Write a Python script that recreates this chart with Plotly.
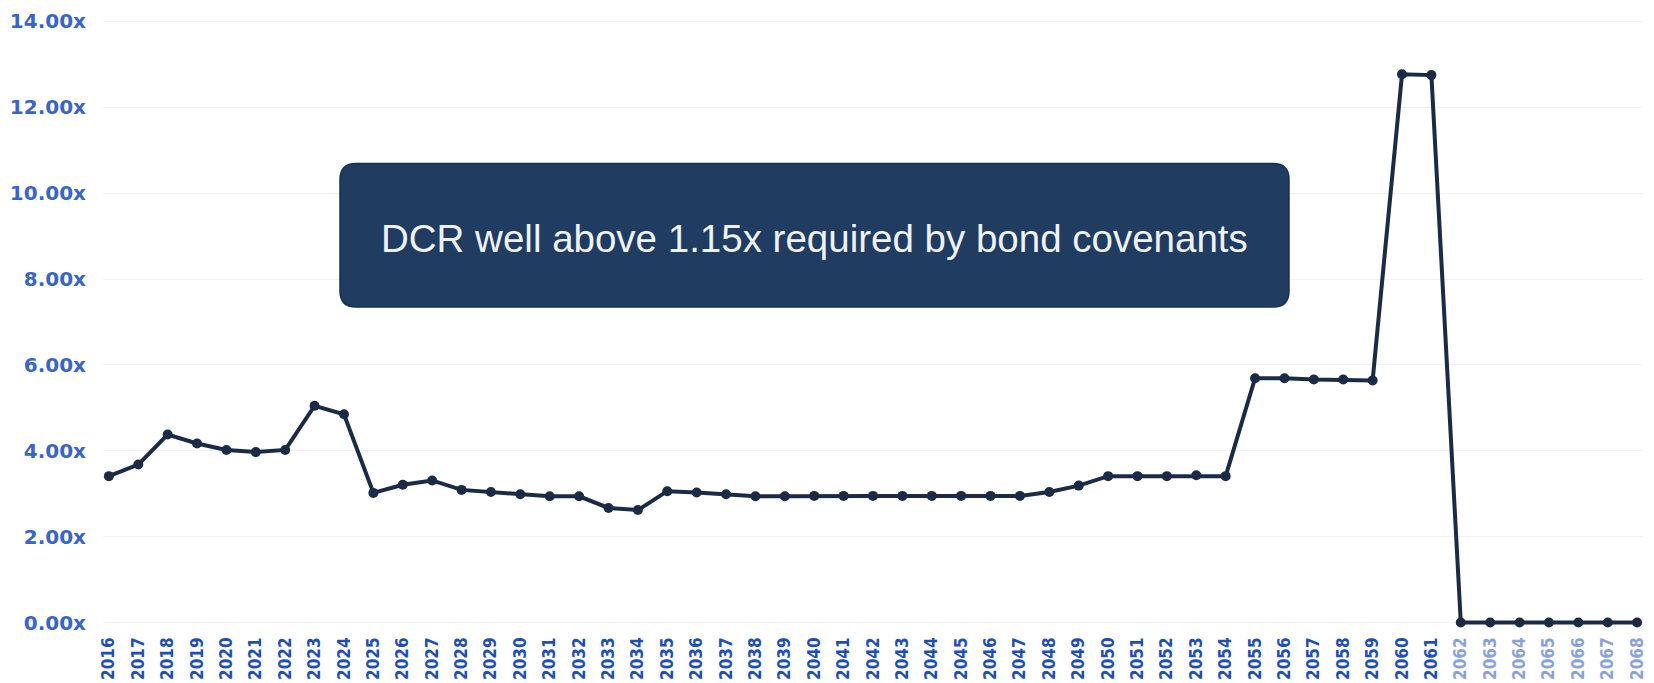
import plotly.graph_objects as go

years = list(range(2016, 2069))
dcr = [3.41, 3.68, 4.38, 4.17, 4.02, 3.97, 4.02, 5.05, 4.85, 3.02,
       3.21, 3.31, 3.09, 3.04, 2.99, 2.94, 2.94, 2.67, 2.62, 3.06,
       3.03, 2.99, 2.94, 2.94, 2.95, 2.95, 2.95, 2.95, 2.95, 2.95,
       2.95, 2.95, 3.04, 3.19, 3.41, 3.41, 3.41, 3.43, 3.41, 5.69,
       5.69, 5.66, 5.66, 5.64, 12.77, 12.75, 0.0, 0.0, 0.0, 0.0,
       0.0, 0.0, 0.0]
y_ticks = [0, 2, 4, 6, 8, 10, 12, 14]
y_tick_labels = ["0.00x", "2.00x", "4.00x", "6.00x", "8.00x", "10.00x", "12.00x", "14.00x"]
faded_from = 2062
callout = "DCR well above 1.15x required by bond covenants"

W, H = 1654, 683
ML, MR, MT, MB = 103, 11, 15, 54

x_labels = [str(y) if y < faded_from else f'<span style="color:#8aa2d8">{y}</span>' for y in years]

fig = go.Figure()
fig.add_trace(go.Scatter(
    x=years, y=dcr, mode="lines+markers",
    line=dict(color="#1b2b45", width=4),
    marker=dict(color="#1b2b45", size=10),
    hoverinfo="x+y", showlegend=False,
))

# rounded callout box (pixel geometry converted to paper coords)
pw, ph = W - ML - MR, H - MT - MB
bx0, bx1, by0, by1, r = 340, 1289, 163.5, 307, 16
def px(x): return (x - ML) / pw
def py(y): return (H - MB - y) / ph
path = (f"M {px(bx0 + r)},{py(by0)} L {px(bx1 - r)},{py(by0)} "
        f"Q {px(bx1)},{py(by0)} {px(bx1)},{py(by0 + r)} "
        f"L {px(bx1)},{py(by1 - r)} Q {px(bx1)},{py(by1)} {px(bx1 - r)},{py(by1)} "
        f"L {px(bx0 + r)},{py(by1)} Q {px(bx0)},{py(by1)} {px(bx0)},{py(by1 - r)} "
        f"L {px(bx0)},{py(by0 + r)} Q {px(bx0)},{py(by0)} {px(bx0 + r)},{py(by0)} Z")
fig.add_shape(type="path", path=path, xref="paper", yref="paper",
              fillcolor="#203c60", line=dict(color="#182f4e", width=1.5), layer="above")
fig.add_annotation(text=callout, xref="paper", yref="paper",
                   x=px((bx0 + bx1) / 2), y=py(238), showarrow=False,
                   font=dict(family="Liberation Sans, Arial, sans-serif", size=38.5, color="#eef2f7"))

fig.update_layout(
    width=W, height=H,
    margin=dict(l=ML, r=MR, t=MT, b=MB, autoexpand=False),
    paper_bgcolor="white", plot_bgcolor="white",
    xaxis=dict(
        range=[2015.8, 2068.2], tickmode="array", tickvals=years, ticktext=x_labels,
        tickangle=-90, showgrid=False, zeroline=False, showline=False, automargin=False,
        ticklabelstandoff=4,
        tickfont=dict(family="DejaVu Sans Condensed, DejaVu Sans, sans-serif", size=17,
                      color="#1f4fb4", weight="bold"),
    ),
    yaxis=dict(
        range=[-0.15, 14.15], tickmode="array", tickvals=y_ticks, ticktext=y_tick_labels,
        showgrid=True, gridcolor="#f3f3f3", zeroline=False, showline=False, automargin=False,
        ticklabelstandoff=16,
        tickfont=dict(family="DejaVu Sans, sans-serif", size=20, color="#3a64c8", weight="bold"),
    ),
)

fig.write_html("out.html", config={"displayModeBar": False},
               post_script="document.body.style.margin='0';document.body.style.overflow='hidden';")
